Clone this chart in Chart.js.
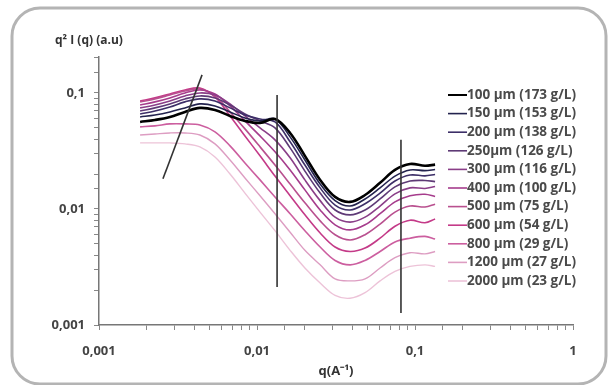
<!DOCTYPE html>
<html>
<head>
<meta charset="utf-8">
<script src="https://cdn.jsdelivr.net/npm/chart.js@4.4.1/dist/chart.umd.min.js"></script>
<style>
  body { margin: 0; background: #fff; }
  canvas { display: block; }
</style>
</head>
<body>
<canvas id="cvs" width="614" height="385"></canvas>
<script>
/*==========| data |========== */
const qValues = [0.00182, 0.00226, 0.00281, 0.00350, 0.00435, 0.00542, 0.00675, 0.00839, 0.01045, 0.0130,
                 0.0162, 0.0201, 0.0251, 0.0312, 0.0388, 0.0483, 0.0601, 0.0747, 0.0930, 0.1156, 0.134];

const labels = ['100 µm (173 g/L)', '150 µm (153 g/L)', '200 µm (138 g/L)', '250µm (126 g/L)',
                '300 µm (116 g/L)', '400 µm (100 g/L)', '500 µm (75 g/L)', '600 µm (54 g/L)',
                '800 µm (29 g/L)', '1200 µm (27 g/L)', '2000 µm (23 g/L)'];

const s100  = [0.0562, 0.0585, 0.0621, 0.0686, 0.0743, 0.0713, 0.0633, 0.0574, 0.0551, 0.0597, 0.0452, 0.0287, 0.0178, 0.0127, 0.0115, 0.0132, 0.0168, 0.0217, 0.0244, 0.0236, 0.0241];
const s150  = [0.0621, 0.0646, 0.0686, 0.0743, 0.0804, 0.0773, 0.0686, 0.0609, 0.0574, 0.0597, 0.0418, 0.0264, 0.0164, 0.0118, 0.0106, 0.0122, 0.0152, 0.0192, 0.0217, 0.0214, 0.0219];
const s200  = [0.0659, 0.0699, 0.0757, 0.0837, 0.0888, 0.0853, 0.0743, 0.0646, 0.0597, 0.0562, 0.0379, 0.0239, 0.0152, 0.0108, 0.0098, 0.0111, 0.0137, 0.0174, 0.0196, 0.0193, 0.0198];
const s250  = [0.0699, 0.0743, 0.0804, 0.0888, 0.0942, 0.0906, 0.0788, 0.0659, 0.0574, 0.0500, 0.0336, 0.0212, 0.0137, 0.0098, 0.0089, 0.0098, 0.0122, 0.0155, 0.0174, 0.0176, 0.0172];
const s300  = [0.0743, 0.0788, 0.0853, 0.0942, 0.1000, 0.0961, 0.0804, 0.0633, 0.0500, 0.0394, 0.0276, 0.0178, 0.0118, 0.0085, 0.0077, 0.0085, 0.0106, 0.0135, 0.0152, 0.0150, 0.0156];
const s400  = [0.0788, 0.0837, 0.0906, 0.1000, 0.1060, 0.0980, 0.0773, 0.0574, 0.0426, 0.0311, 0.0217, 0.0146, 0.0098, 0.0073, 0.0066, 0.0073, 0.0091, 0.0115, 0.0130, 0.0134, 0.0128];
const s500  = [0.0837, 0.0888, 0.0961, 0.1040, 0.1080, 0.0942, 0.0686, 0.0490, 0.0343, 0.0239, 0.0164, 0.0113, 0.0079, 0.0060, 0.0054, 0.0060, 0.0074, 0.0094, 0.0106, 0.0104, 0.0110];
const s600  = [0.0853, 0.0906, 0.0980, 0.1060, 0.1100, 0.0924, 0.0633, 0.0426, 0.0287, 0.0192, 0.0130, 0.0089, 0.0062, 0.0047, 0.0043, 0.0046, 0.0056, 0.0071, 0.0080, 0.0076, 0.0082];
const s800  = [0.0510, 0.0520, 0.0541, 0.0541, 0.0530, 0.0462, 0.0350, 0.0249, 0.0178, 0.0127, 0.0091, 0.0065, 0.0047, 0.0036, 0.0033, 0.0036, 0.0043, 0.0052, 0.0056, 0.0058, 0.0055];
const s1200 = [0.0434, 0.0443, 0.0452, 0.0452, 0.0434, 0.0364, 0.0264, 0.0185, 0.0130, 0.0091, 0.0063, 0.0044, 0.0033, 0.0025, 0.0024, 0.0025, 0.0031, 0.0038, 0.0042, 0.0041, 0.0043];
const s2000 = [0.0371, 0.0371, 0.0371, 0.0364, 0.0343, 0.0281, 0.0200, 0.0137, 0.0094, 0.0065, 0.0044, 0.0031, 0.0023, 0.0018, 0.0017, 0.0019, 0.0024, 0.0029, 0.0032, 0.0033, 0.0032];

/* guide lines drawn on the figure */
const slopeQ = [0.00254, 0.00449];
const slopeI = [0.0182, 0.143];
const mark1Q = [0.0134, 0.0134];
const mark1I = [0.096, 0.00213];
const mark2Q = [0.0815, 0.0815];
const mark2I = [0.0394, 0.00127];

const xTicks = [0.001, 0.01, 0.1, 1];
const yTicks = [0.001, 0.01, 0.1];

/*==========| colors |========== */
const seriesData = [s100, s150, s200, s250, s300, s400, s500, s600, s800, s1200, s2000];
const colors = ['#000000', '#23234e', '#3d2f68', '#5e3a76', '#8a3e88', '#a63c8c', '#b9508f',
                '#c43a88', '#cc5e9f', '#dd9dc2', '#edc3d8'];
const widths = [2.6, 1.6, 1.6, 1.6, 1.6, 1.6, 1.6, 1.6, 1.6, 1.4, 1.4];

const toPoints = (qs, vals) => qs.map((q, i) => ({x: q, y: vals[i]}));
const fmt = v => String(v).replace('.', ',');
const isDecade = v => Math.abs(Math.log10(v) - Math.round(Math.log10(v))) < 1e-6;

function buildDatasets () {
    let datasets = [];
    [[slopeQ, slopeI], [mark1Q, mark1I], [mark2Q, mark2I]].forEach(m => {
        datasets.push({
            label: '',
            data: toPoints(m[0], m[1]),
            borderColor: '#333',
            borderWidth: 1.6,
            pointRadius: 0,
            tension: 0,
            order: -1
        });
    });
    for (let i = 0; i < seriesData.length; i++) {
        datasets.push({
            label: labels[i],
            data: toPoints(qValues, seriesData[i]),
            borderColor: colors[i],
            borderWidth: widths[i],
            pointRadius: 0,
            tension: 0.35,
            order: i
        });
    }
    return datasets;
}

/*==========| plugin: frame, titles, legend |========== */
const decor = {
    id: 'decor',
    beforeDraw(chart) {
        const c = chart.ctx;
        c.save();
        c.fillStyle = '#fff';
        c.fillRect(0, 0, chart.width, chart.height);
        c.strokeStyle = '#b4b4b4';
        c.lineWidth = 3;
        c.beginPath();
        c.roundRect(12, 8, 594, 376, 28);
        c.stroke();
        c.restore();
    },
    afterDraw(chart) {
        const c = chart.ctx;
        c.save();
        c.fillStyle = '#333';
        c.font = 'bold 12px "Open Sans"';
        c.textBaseline = 'middle';
        c.textAlign = 'left';
        c.fillText('q² I (q) (a.u)', 55, 41);
        c.textAlign = 'center';
        c.font = 'bold 13px "Open Sans"';
        c.fillText('q(A⁻¹)', 336, 371);

        c.textAlign = 'left';
        c.font = 'bold 13.5px "Open Sans"';
        for (let i = 0; i < labels.length; i++) {
            const y = 95 + i * 18.6;
            c.strokeStyle = colors[i];
            c.lineWidth = i == 0 ? 2 : 1.6;
            c.beginPath();
            c.moveTo(448, y);
            c.lineTo(467, y);
            c.stroke();
            c.fillStyle = '#4a4a4a';
            c.fillText(labels[i], 467, y);
        }
        c.restore();
    }
};

let ctx = document.getElementById('cvs').getContext('2d');
let chart = new Chart(ctx, {
    type: 'line',
    data: { datasets: buildDatasets() },
    options: {
        responsive: false,
        animation: false,
        devicePixelRatio: 1,
        layout: { padding: { left: 0, top: 57, right: 41, bottom: 0 } },
        plugins: {
            legend: { display: false },
            tooltip: { enabled: false }
        },
        scales: {
            x: {
                type: 'logarithmic',
                min: 0.001,
                max: 1,
                afterFit: s => { s.height = 60; },
                border: { display: true, color: '#777', width: 1.5 },
                grid: { drawOnChartArea: false, drawTicks: true, tickLength: 5, color: '#888' },
                ticks: {
                    autoSkip: false,
                    maxRotation: 0,
                    padding: 13,
                    color: '#444',
                    font: { family: 'Open Sans', weight: 'bold', size: 13 },
                    callback: v => (isDecade(v) && xTicks.some(t => Math.abs(t - v) < t * 1e-6)) ? fmt(v) : ''
                }
            },
            y: {
                type: 'logarithmic',
                min: 0.001,
                max: 0.204,
                afterFit: s => { s.width = 99; },
                border: { display: true, color: '#777', width: 1.5 },
                grid: { drawOnChartArea: false, drawTicks: true, tickLength: 5, color: '#888' },
                ticks: {
                    autoSkip: false,
                    padding: 9,
                    color: '#444',
                    font: { family: 'Open Sans', weight: 'bold', size: 13 },
                    callback: v => (isDecade(v) && yTicks.some(t => Math.abs(t - v) < t * 1e-6)) ? fmt(v) : ''
                }
            }
        }
    },
    plugins: [decor]
});
</script>
</body>
</html>
